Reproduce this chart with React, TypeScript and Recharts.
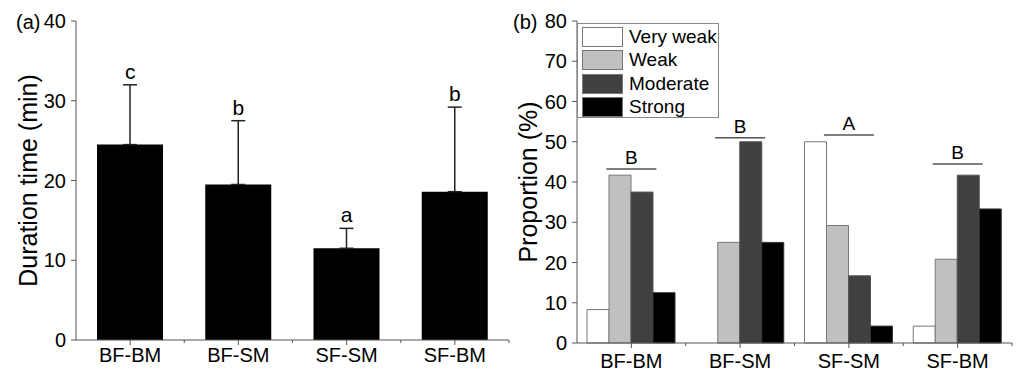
import React from 'react';
import { ComposedChart, Bar, XAxis, YAxis, ErrorBar, Scatter } from 'recharts';

// treatment groups shared by both panels
const groups = ['BF-BM', 'BF-SM', 'SF-SM', 'SF-BM'];

// panel (a): duration time
const durationMean = [24.5, 19.5, 11.5, 18.6];
const durationErr = [7.5, 8.0, 2.5, 10.6];
const durationLetters = ['c', 'b', 'a', 'b'];

// panel (b): proportion by strength
const strengthNames = ['Very weak', 'Weak', 'Moderate', 'Strong'];
const veryWeak = [8.3, 0, 50, 4.2];
const weak = [41.7, 25, 29.2, 20.8];
const moderate = [37.5, 50, 16.7, 41.7];
const strong = [12.5, 25, 4.2, 33.3];
const sigLetters = ['B', 'B', 'A', 'B'];
const sigLevel = [43.2, 51, 51.7, 44.5];

const durationTicks = [0, 10, 20, 30, 40];
const proportionTicks = [0, 10, 20, 30, 40, 50, 60, 70, 80];

const FONT = '"Liberation Sans", Arial, sans-serif';
const AXIS = '#555';

const strengthKeys = ['veryWeak', 'weak', 'moderate', 'strong'];
const strengthFill = ['#fff', '#c0c0c0', '#404040', '#000'];
const strengthStroke = ['#777', '#777', '#555', '#333'];

const durationData = groups.map((g, i) => ({
  group: g,
  mean: durationMean[i],
  err: [0, durationErr[i]],
  top: durationMean[i] + durationErr[i],
  letter: durationLetters[i],
}));

const proportionData = groups.map((g, i) => ({
  group: g,
  veryWeak: veryWeak[i],
  weak: weak[i],
  moderate: moderate[i],
  strong: strong[i],
  sig: sigLevel[i],
  letter: sigLetters[i],
}));

const tickStyle = { fill: '#000', fontSize: 20, fontFamily: FONT };

// category label plus a small tick at the right edge of each band
const groupTick = (gap: number) => (props: any) => {
  const { x, y, payload } = props;
  const axisY = y - gap;
  const edge = x + (payload.offset || 0);
  return (
    <g>
      <line x1={edge} x2={edge} y1={axisY} y2={axisY + 3} stroke={AXIS} />
      <text x={x} y={y} dy="0.71em" textAnchor="middle" {...tickStyle}>
        {payload.value}
      </text>
    </g>
  );
};

const axisTitle = (text: string, dx: number) => (props: any) => {
  const vb = props.viewBox;
  const x = vb.x + dx;
  const y = vb.y + vb.height / 2;
  return (
    <text
      x={x}
      y={y}
      transform={`rotate(-90, ${x}, ${y})`}
      textAnchor="middle"
      dominantBaseline="central"
      fontSize={25}
      fontFamily={FONT}
      fill="#000"
    >
      {text}
    </text>
  );
};

const LetterMark = (props: any) => (
  <text x={props.cx} y={props.cy - 6} textAnchor="middle" fontSize={21} fontFamily={FONT} fill="#000">
    {props.payload.letter}
  </text>
);

const SigMark = (props: any) => (
  <g>
    <line x1={props.cx - 25} x2={props.cx + 25} y1={props.cy} y2={props.cy} stroke={AXIS} strokeWidth={1.5} />
    <text x={props.cx} y={props.cy - 5} textAnchor="middle" fontSize={19} fontFamily={FONT} fill="#000">
      {props.payload.letter}
    </text>
  </g>
);

const StrengthLegend = () => (
  <div
    style={{
      position: 'absolute',
      left: 577,
      top: 23,
      width: 142,
      height: 95,
      border: '1px solid #888',
      background: '#fff',
      boxSizing: 'border-box',
      paddingTop: 1,
    }}
  >
    {strengthNames.map((name, i) => (
      <div key={name} style={{ display: 'flex', alignItems: 'center', height: 23.5 }}>
        <div
          style={{
            width: 41,
            height: 20,
            marginLeft: 4,
            background: strengthFill[i],
            border: '1px solid #777',
            boxSizing: 'border-box',
          }}
        />
        <span style={{ marginLeft: 6, fontSize: 19, fontFamily: FONT, color: '#000' }}>{name}</span>
      </div>
    ))}
  </div>
);

const panelLabel = (left: number, text: string) => (
  <div style={{ position: 'absolute', left, top: 11, fontSize: 20, fontFamily: FONT, color: '#000' }}>{text}</div>
);

export default function App() {
  return (
    <div style={{ position: 'fixed', left: 0, top: 0, width: 1019, height: 371, background: '#fff' }}>
      <div style={{ position: 'absolute', left: 0, top: 0 }}>
        <ComposedChart width={510} height={371} data={durationData} margin={{ top: 21, right: 1, bottom: 0, left: 6 }}>
          <XAxis
            dataKey="group"
            height={31}
            tick={groupTick(8)}
            tickSize={5}
            tickMargin={3}
            axisLine={{ stroke: AXIS }}
            tickLine={{ stroke: AXIS }}
          />
          <YAxis
            width={70}
            domain={[0, 40]}
            ticks={durationTicks}
            tick={tickStyle}
            tickSize={5}
            tickMargin={5}
            axisLine={{ stroke: AXIS }}
            tickLine={{ stroke: AXIS }}
            label={{ content: axisTitle('Duration time (min)', 22) }}
          />
          <Bar dataKey="mean" fill="#000" barSize={66} isAnimationActive={false}>
            <ErrorBar dataKey="err" width={7} stroke="#222" strokeWidth={1.5} direction="y" />
          </Bar>
          <Scatter dataKey="top" shape={LetterMark} isAnimationActive={false} />
        </ComposedChart>
      </div>
      <div style={{ position: 'absolute', left: 510, top: 0 }}>
        <ComposedChart
          width={509}
          height={371}
          data={proportionData}
          margin={{ top: 21, right: 7, bottom: 0, left: 7 }}
          barGap={0}
        >
          <XAxis
            dataKey="group"
            height={28}
            tick={groupTick(11)}
            tickSize={5}
            tickMargin={6}
            axisLine={{ stroke: AXIS }}
            tickLine={{ stroke: AXIS }}
          />
          <YAxis
            width={60}
            domain={[0, 80]}
            ticks={proportionTicks}
            tick={tickStyle}
            tickSize={5}
            tickMargin={5}
            axisLine={{ stroke: AXIS }}
            tickLine={{ stroke: AXIS }}
            label={{ content: axisTitle('Proportion (%)', 11) }}
          />
          {strengthKeys.map((key, i) => (
            <Bar
              key={key}
              dataKey={key}
              name={strengthNames[i]}
              fill={strengthFill[i]}
              stroke={strengthStroke[i]}
              barSize={22}
              isAnimationActive={false}
            />
          ))}
          <Scatter dataKey="sig" shape={SigMark} isAnimationActive={false} />
        </ComposedChart>
      </div>
      <StrengthLegend />
      {panelLabel(16, '(a)')}
      {panelLabel(513, '(b)')}
    </div>
  );
}
